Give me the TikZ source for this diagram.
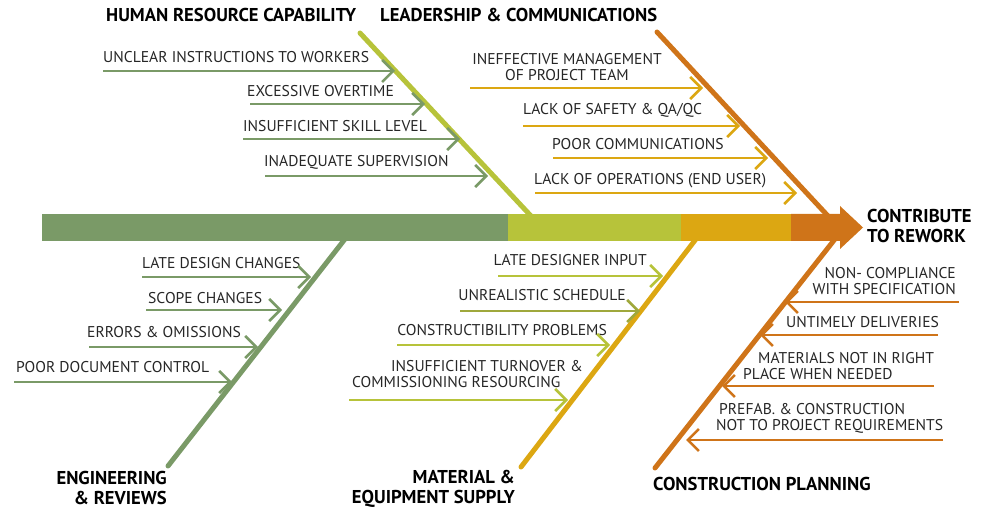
\documentclass[tikz,border=0pt]{standalone}
\usepackage{fontspec}
\setmainfont{PT Sans}
\usetikzlibrary{arrows.meta}

\definecolor{fgreen}{HTML}{7A9A67}
\definecolor{flime}{HTML}{B7C33A}
\definecolor{folive}{HTML}{9FA83C}
\definecolor{fyellow}{HTML}{DCA712}
\definecolor{forange}{HTML}{CF7419}
\definecolor{ftext}{HTML}{262626}

\begin{document}
\begin{tikzpicture}[x=1pt,y=-1pt,
  bone/.style={line width=5pt, line cap=round},
  cause/.style={line width=2.6pt,
    -{Straight Barb[length=11pt,width=22pt,line width=2.6pt]}},
  lbl/.style={font=\fontsize{15.6}{16}\selectfont, text=ftext, inner sep=0pt},
  ttl/.style={font=\bfseries\fontsize{18.6}{20.5}\selectfont, text=black, inner sep=0pt},
]
\useasboundingbox (0,0) rectangle (983,510);

% ---- main bones ----
\draw[bone, flime]   (360,33)  coordinate (hrTop) -- (531,216) coordinate (hrEnd);
\draw[bone, forange] (657,32)  coordinate (ldTop) -- (828,216) coordinate (ldEnd);
\draw[bone, fgreen]  (168,466) coordinate (enBot) -- (345,239) coordinate (enEnd);
\draw[bone, fyellow] (521,467) coordinate (maBot) -- (696,239) coordinate (maEnd);
\draw[bone, forange] (655,468) coordinate (cpBot) -- (835,239) coordinate (cpEnd);

% ---- spine with head ----
\fill[fgreen]  (42,214)  rectangle (508,241);
\fill[flime]   (508,214) rectangle (681,241);
\fill[fyellow] (681,214) rectangle (791,241);
\fill[forange] (791,214) -- (840,214) -- (840,206) -- (863,227.5)
  -- (840,249) -- (840,241) -- (791,241) -- cycle;

% ---- category titles ----
\node[ttl, anchor=base west] (tHR) at (106,22) {HUMAN RESOURCE CAPABILITY};
\node[ttl, anchor=base west] (tLD) at (380,22) {LEADERSHIP \& COMMUNICATIONS};
\node[ttl, anchor=north west, align=left] (tOut) at (867,209) {CONTRIBUTE\\TO REWORK};
\node[ttl, anchor=north east, align=right] (tEN) at (167,471) {ENGINEERING\\\& REVIEWS};
\node[ttl, anchor=north east, align=right] (tMA) at (515,470) {MATERIAL \&\\EQUIPMENT SUPPLY};
\node[ttl, anchor=base west] (tCP) at (653,490) {CONSTRUCTION PLANNING};

% ---- human resource capability ----
\node[lbl, anchor=base west] (h1) at (103,63)  {UNCLEAR INSTRUCTIONS TO WORKERS};
\node[lbl, anchor=base west] (h2) at (247,97)  {EXCESSIVE OVERTIME};
\node[lbl, anchor=base west] (h3) at (243,132) {INSUFFICIENT SKILL LEVEL};
\node[lbl, anchor=base west] (h4) at (264,167) {INADEQUATE SUPERVISION};
\coordinate (h1a) at (103,71);  \coordinate (h1b) at (395,71);
\coordinate (h2a) at (250,104); \coordinate (h2b) at (425,104);
\coordinate (h3a) at (243,139); \coordinate (h3b) at (460,139);
\coordinate (h4a) at (265,176); \coordinate (h4b) at (488,176);
\foreach \k in {1,...,4} \draw[cause, fgreen] (h\k a) -- (h\k b);

% ---- leadership & communications ----
\node[lbl, anchor=north, align=center] (l1) at (567,53)
  {INEFFECTIVE MANAGEMENT\\OF PROJECT TEAM};
\node[lbl, anchor=base west] (l2) at (523,115) {LACK OF SAFETY \& QA/QC};
\node[lbl, anchor=base west] (l3) at (552,150) {POOR COMMUNICATIONS};
\node[lbl, anchor=base west] (l4) at (534,185) {LACK OF OPERATIONS (END USER)};
\coordinate (l1a) at (470,88);  \coordinate (l1b) at (703,88);
\coordinate (l2a) at (523,126); \coordinate (l2b) at (740,126);
\coordinate (l3a) at (553,158); \coordinate (l3b) at (768,158);
\coordinate (l4a) at (535,193); \coordinate (l4b) at (797,193);
\foreach \k in {1,...,4} \draw[cause, fyellow] (l\k a) -- (l\k b);

% ---- engineering & reviews ----
\node[lbl, anchor=base west] (e1) at (142,269) {LATE DESIGN CHANGES};
\node[lbl, anchor=base west] (e2) at (148,304) {SCOPE CHANGES};
\node[lbl, anchor=base west] (e3) at (87,338)  {ERRORS \& OMISSIONS};
\node[lbl, anchor=base west] (e4) at (16,373)  {POOR DOCUMENT CONTROL};
\coordinate (e1a) at (142,277); \coordinate (e1b) at (311,277);
\coordinate (e2a) at (146,310); \coordinate (e2b) at (282,310);
\coordinate (e3a) at (89,347);  \coordinate (e3b) at (258,347);
\coordinate (e4a) at (14,382);  \coordinate (e4b) at (232,382);
\foreach \k in {1,...,4} \draw[cause, fgreen] (e\k a) -- (e\k b);

% ---- material & equipment supply ----
\node[lbl, anchor=base east] (m1) at (647,266) {LATE DESIGNER INPUT};
\node[lbl, anchor=base east] (m2) at (626,301) {UNREALISTIC SCHEDULE};
\node[lbl, anchor=base east] (m3) at (607,336) {CONSTRUCTIBILITY PROBLEMS};
\node[lbl, anchor=north west, align=left] (m4) at (352,360)
  {\hspace*{39pt}INSUFFICIENT TURNOVER \&\\COMMISSIONING RESOURCING};
\coordinate (m1a) at (498,276); \coordinate (m1b) at (663,276);
\coordinate (m2a) at (460,311); \coordinate (m2b) at (640,311);
\coordinate (m3a) at (397,345); \coordinate (m3b) at (610,345);
\coordinate (m4a) at (349,400); \coordinate (m4b) at (568,400);
\draw[cause, flime]  (m1a) -- (m1b);
\draw[cause, folive] (m2a) -- (m2b);
\draw[cause, flime]  (m3a) -- (m3b);
\draw[cause, flime]  (m4a) -- (m4b);

% ---- construction planning ----
\node[lbl, anchor=north east, align=right] (c1) at (956,267)
  {NON- COMPLIANCE\\WITH SPECIFICATION};
\node[lbl, anchor=base west] (c2) at (786,328) {UNTIMELY DELIVERIES};
\node[lbl, anchor=north west, align=left] (c3) at (743,352)
  {\hspace*{15pt}MATERIALS NOT IN RIGHT\\PLACE WHEN NEEDED};
\node[lbl, anchor=north west, align=left] (c4) at (716,403)
  {\hspace*{3pt}PREFAB. \& CONSTRUCTION\\NOT TO PROJECT REQUIREMENTS};
\coordinate (c1a) at (959,302); \coordinate (c1b) at (785,302);
\coordinate (c2a) at (938,335); \coordinate (c2b) at (760,335);
\coordinate (c3a) at (934,386); \coordinate (c3b) at (722,386);
\coordinate (c4a) at (943,440); \coordinate (c4b) at (686,440);
\foreach \k in {1,...,4} \draw[cause, forange] (c\k a) -- (c\k b);

\end{tikzpicture}
\end{document}
